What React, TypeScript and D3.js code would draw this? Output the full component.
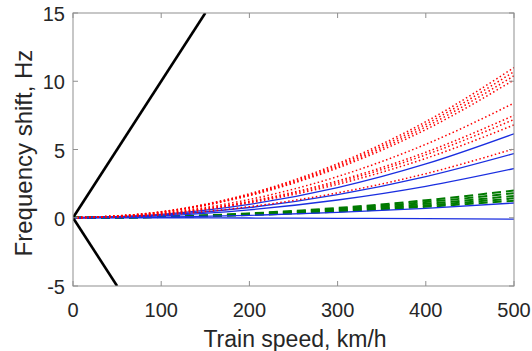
import React from 'react'
import * as d3 from 'd3'

const speeds = [0, 100, 200, 300, 400, 500]

// red dotted curves
const redSeries = [
  [0, 0.44, 1.76, 3.96, 7.04, 11.0],
  [0, 0.43, 1.71, 3.85, 6.85, 10.7],
  [0, 0.42, 1.66, 3.74, 6.66, 10.4],
  [0, 0.4, 1.62, 3.64, 6.46, 10.1],
  [0, 0.34, 1.34, 3.02, 5.38, 8.4],
  [0, 0.3, 1.2, 2.7, 4.8, 7.5],
  [0, 0.29, 1.15, 2.59, 4.61, 7.2],
  [0, 0.27, 1.09, 2.45, 4.35, 6.8],
  [0, 0.2, 0.81, 1.82, 3.23, 5.05]
]

// blue solid curves
const blueSeries = [
  [0, 0.25, 0.98, 2.21, 3.94, 6.15],
  [0, 0.19, 0.75, 1.69, 3.01, 4.7],
  [0, 0.14, 0.58, 1.3, 2.3, 3.6],
  [0, 0.04, 0.17, 0.39, 0.69, 1.08],
  [0, 0.0, -0.02, -0.04, -0.06, -0.1]
]

// green dashed curves
const greenSeries = [
  [0, 0.08, 0.32, 0.72, 1.28, 2.0],
  [0, 0.07, 0.29, 0.65, 1.15, 1.8],
  [0, 0.06, 0.26, 0.58, 1.02, 1.6],
  [0, 0.06, 0.23, 0.51, 0.91, 1.42],
  [0, 0.05, 0.2, 0.45, 0.8, 1.25]
]

// black straight limits
const upperSpeeds = [0, 150]
const upperValues = [0, 15]
const lowerSpeeds = [0, 50]
const lowerValues = [0, -5]

const xTicks = [0, 100, 200, 300, 400, 500]
const yTicks = [-5, 0, 5, 10, 15]

const width = 532,
      height = 351,
      left = 73,
      right = 514,
      top = 13,
      bottom = 286

const axisColor = '#8f8f8f'
const textColor = '#262626'
const font = '"Liberation Sans", Arial, sans-serif'

const xScale = d3.scaleLinear().domain([0, 500]).range([left, right])
const yScale = d3.scaleLinear().domain([-5, 15]).range([bottom, top])

const toPoints = (xs: number[], ys: number[]) => xs.map((x, i) => [x, ys[i]] as [number, number])

const curve = d3.line<[number, number]>()
  .x(d => xScale(d[0]))
  .y(d => yScale(d[1]))
  .curve(d3.curveMonotoneX)

const straight = d3.line<[number, number]>()
  .x(d => xScale(d[0]))
  .y(d => yScale(d[1]))

export default function App () {
  return (
    <div style={{ position: 'absolute', left: 0, top: 0 }}>
      <svg width={width} height={height} style={{ display: 'block', background: '#fff' }}>
        <defs>
          <clipPath id="plot">
            <rect x={left} y={top} width={right - left} height={bottom - top} />
          </clipPath>
        </defs>

        <g clipPath="url(#plot)">
          {greenSeries.map((s, i) => (
            <path key={'g' + i} d={curve(toPoints(speeds, s)) || ''} fill="none"
              stroke="#007a00" strokeWidth={2} strokeDasharray="9 5" />
          ))}
          {blueSeries.map((s, i) => (
            <path key={'b' + i} d={curve(toPoints(speeds, s)) || ''} fill="none"
              stroke="#1a2ee0" strokeWidth={1.3} />
          ))}
          {redSeries.map((s, i) => (
            <path key={'r' + i} d={curve(toPoints(speeds, s)) || ''} fill="none"
              stroke="#ff0000" strokeWidth={1.5} strokeDasharray="1.5 2.5" />
          ))}
          <path d={straight(toPoints(upperSpeeds, upperValues)) || ''} fill="none" stroke="#000" strokeWidth={2.6} />
          <path d={straight(toPoints(lowerSpeeds, lowerValues)) || ''} fill="none" stroke="#000" strokeWidth={2.6} />
        </g>

        {/* box */}
        <rect x={left} y={top} width={right - left} height={bottom - top} fill="none" stroke={axisColor} strokeWidth={1} />

        {/* x axis */}
        {xTicks.map(t => (
          <g key={'x' + t} transform={`translate(${xScale(t)}, 0)`}>
            <line y1={bottom} y2={bottom - 5} stroke={axisColor} />
            <line y1={top} y2={top + 5} stroke={axisColor} />
            <text y={bottom + 31} textAnchor="middle" fontFamily={font} fontSize={20} fill={textColor}>{t}</text>
          </g>
        ))}

        {/* y axis */}
        {yTicks.map(t => (
          <g key={'y' + t} transform={`translate(0, ${yScale(t)})`}>
            <line x1={left} x2={left + 5} stroke={axisColor} />
            <line x1={right} x2={right - 5} stroke={axisColor} />
            <text x={left - 8} dy="0.4em" textAnchor="end" fontFamily={font} fontSize={20} fill={textColor}>{t}</text>
          </g>
        ))}

        <text x={295} y={347} textAnchor="middle" fontFamily={font} fontSize={23} fill={textColor}>
          Train speed, km/h
        </text>
        <text transform={`translate(32, 153) rotate(-90)`} textAnchor="middle"
          fontFamily={font} fontSize={24} fill={textColor}>
          Frequency shift, Hz
        </text>
      </svg>
    </div>
  )
}
